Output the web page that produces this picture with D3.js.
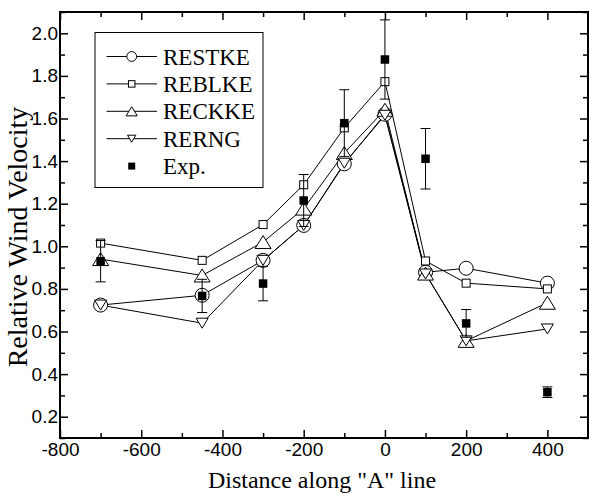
<!DOCTYPE html>
<html>
<head>
<meta charset="utf-8">
<style>
  body { margin: 0; background: #fff; }
  svg { display: block; }
</style>
</head>
<body>
<svg width="589" height="493"></svg>
<script src="https://d3js.org/d3.v7.min.js"></script>
<script>
// distance along the "A" line
const xs = [-700, -450, -300, -200, -100, 0, 100, 200, 400]

// model series
const restke = [0.724, 0.770, 0.934, 1.098, 1.387, 1.620, 0.878, 0.897, 0.827]
const reblke = [1.015, 0.934, 1.102, 1.289, 1.556, 1.773, 0.931, 0.827, 0.800]
const reckke = [0.940, 0.863, 1.020, 1.177, 1.438, 1.641, 0.872, 0.556, 0.735]
const rerng  = [0.724, 0.639, 0.934, 1.098, 1.390, 1.615, 0.870, 0.556, 0.612]

// experiment, value and +/- error
const expVal = [0.930, 0.767, 0.825, 1.215, 1.578, 1.877, 1.411, 0.638, 0.315]
const expErr = [0.097, 0.078, 0.081, 0.122, 0.157, 0.186, 0.142, 0.065, 0.025]

const xMajor = [-800, -600, -400, -200, 0, 200, 400]
const xMinor = [-700, -500, -300, -100, 100, 300, 500]
const yMajor = [0.2, 0.4, 0.6, 0.8, 1.0, 1.2, 1.4, 1.6, 1.8, 2.0]
const yMinor = [0.1, 0.3, 0.5, 0.7, 0.9, 1.1, 1.3, 1.5, 1.7, 1.9, 2.1]

const mLeft = 60, mRight = 588, mTop = 12, mBottom = 438

const svg = d3.select("svg")
const x = d3.scaleLinear().domain([-800, 500]).range([mLeft, mRight])
const y = d3.scaleLinear().domain([0.1, 2.1]).range([mBottom, mTop])

// symbol shapes
function upTri(w, h) {
  return `M0,${-h / 2}L${w / 2},${h / 2}L${-w / 2},${h / 2}Z`
}
function downTri(w, h) {
  return `M0,${h / 2}L${w / 2},${-h / 2}L${-w / 2},${-h / 2}Z`
}
function drawMarker(g, kind, cx, cy, small) {
  const k = small ? 0.7 : 1
  if (kind == "circle") {
    g.append("circle").attr("cx", cx).attr("cy", cy).attr("r", 7 * k)
      .attr("fill", "#fff").attr("stroke", "#000").attr("stroke-width", 1)
  } else if (kind == "square") {
    const s = small ? 6.5 : 8
    g.append("rect").attr("x", cx - s / 2).attr("y", cy - s / 2).attr("width", s).attr("height", s)
      .attr("fill", "#fff").attr("stroke", "#000").attr("stroke-width", 1)
  } else if (kind == "up") {
    g.append("path").attr("d", upTri(16 * k, 13 * k)).attr("transform", `translate(${cx},${cy})`)
      .attr("fill", "#fff").attr("stroke", "#000").attr("stroke-width", 1)
  } else if (kind == "down") {
    g.append("path").attr("d", downTri(12 * k, 10 * k)).attr("transform", `translate(${cx},${cy})`)
      .attr("fill", "#fff").attr("stroke", "#000").attr("stroke-width", 1)
  } else {
    const s = small ? 7 : 8.5
    g.append("rect").attr("x", cx - s / 2).attr("y", cy - s / 2).attr("width", s).attr("height", s)
      .attr("fill", "#000")
  }
}

const series = [
  {name: "RESTKE", values: restke, kind: "circle"},
  {name: "REBLKE", values: reblke, kind: "square"},
  {name: "RECKKE", values: reckke, kind: "up"},
  {name: "RERNG", values: rerng, kind: "down"}
]

const line = d3.line().x(d => x(d[0])).y(d => y(d[1]))
const plot = svg.append("g")

series.forEach(s => {
  const pts = xs.map((v, i) => [v, s.values[i]])
  plot.append("path").datum(pts).attr("d", line)
    .attr("fill", "none").attr("stroke", "#000").attr("stroke-width", 1)
})
series.forEach(s => {
  xs.forEach((v, i) => drawMarker(plot, s.kind, x(v), y(s.values[i]), false))
})

// experiment error bars + markers
const expG = svg.append("g")
xs.forEach((v, i) => {
  const cx = x(v)
  const y0 = y(expVal[i] - expErr[i]), y1 = y(expVal[i] + expErr[i])
  expG.append("line").attr("x1", cx).attr("x2", cx).attr("y1", y0).attr("y2", y1)
    .attr("stroke", "#000").attr("stroke-width", 1)
  ;[y0, y1].forEach(yy => expG.append("line")
    .attr("x1", cx - 5).attr("x2", cx + 5).attr("y1", yy).attr("y2", yy)
    .attr("stroke", "#000").attr("stroke-width", 1))
  drawMarker(expG, "exp", cx, y(expVal[i]), false)
})

// axes, ticks pointing inward on all four sides
const tickFont = "'Liberation Sans', Arial, sans-serif"
function styleAxis(g) {
  g.select(".domain").remove()
  g.selectAll("line").attr("stroke", "#000").attr("stroke-width", 1.5)
  g.selectAll("text").attr("fill", "#000").style("font-family", tickFont).style("font-size", "19px")
}
svg.append("g").attr("transform", `translate(0,${mBottom})`)
  .call(d3.axisBottom(x).tickValues(xMajor).tickSize(-8).tickPadding(5).tickFormat(d => String(d)))
  .call(styleAxis)
svg.append("g").attr("transform", `translate(0,${mBottom})`)
  .call(d3.axisBottom(x).tickValues(xMinor).tickSize(-5).tickFormat(""))
  .call(styleAxis)
svg.append("g").attr("transform", `translate(0,${mTop})`)
  .call(d3.axisTop(x).tickValues(xMajor).tickSize(-8).tickFormat(""))
  .call(styleAxis)
svg.append("g").attr("transform", `translate(0,${mTop})`)
  .call(d3.axisTop(x).tickValues(xMinor).tickSize(-5).tickFormat(""))
  .call(styleAxis)
svg.append("g").attr("transform", `translate(${mLeft},0)`)
  .call(d3.axisLeft(y).tickValues(yMajor).tickSize(-8).tickPadding(2).tickFormat(d3.format(".1f")))
  .call(styleAxis)
svg.append("g").attr("transform", `translate(${mLeft},0)`)
  .call(d3.axisLeft(y).tickValues(yMinor).tickSize(-5).tickFormat(""))
  .call(styleAxis)
svg.append("g").attr("transform", `translate(${mRight},0)`)
  .call(d3.axisRight(y).tickValues(yMajor).tickSize(-8).tickFormat(""))
  .call(styleAxis)
svg.append("g").attr("transform", `translate(${mRight},0)`)
  .call(d3.axisRight(y).tickValues(yMinor).tickSize(-5).tickFormat(""))
  .call(styleAxis)

svg.append("rect").attr("x", mLeft).attr("y", mTop)
  .attr("width", mRight - mLeft).attr("height", mBottom - mTop)
  .attr("fill", "none").attr("stroke", "#000").attr("stroke-width", 2)

// axis titles
const serif = "'Liberation Serif', 'Times New Roman', serif"
svg.append("text").attr("x", 322).attr("y", 488).attr("text-anchor", "middle")
  .style("font-family", serif).style("font-size", "24px").text('Distance along "A" line')
svg.append("text").attr("transform", "translate(27,237) rotate(-90)").attr("text-anchor", "middle")
  .style("font-family", serif).style("font-size", "28px").text("Relative Wind Velocity")

// legend
const legend = svg.append("g")
legend.append("rect").attr("x", 95).attr("y", 32.5).attr("width", 168).attr("height", 155)
  .attr("fill", "#fff").attr("stroke", "#000").attr("stroke-width", 1)
const legendItems = series.concat([{name: "Exp.", kind: "exp"}])
legendItems.forEach((s, i) => {
  const cy = 56.5 + i * 27.4
  if (s.kind != "exp") {
    legend.append("line").attr("x1", 106.5).attr("x2", 157).attr("y1", cy).attr("y2", cy)
      .attr("stroke", "#000").attr("stroke-width", 1)
  }
  drawMarker(legend, s.kind, 131.7, cy, true)
  legend.append("text").attr("x", 163).attr("y", cy + 8)
    .style("font-family", serif).style("font-size", "23px").text(s.name)
})
</script>
</body>
</html>
